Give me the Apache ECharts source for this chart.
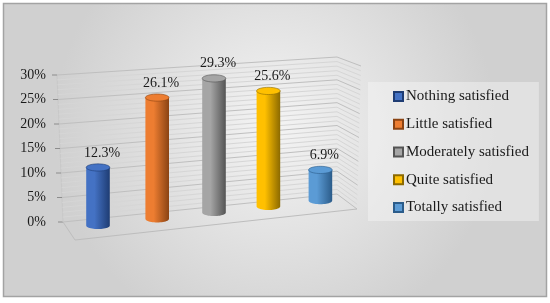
<!DOCTYPE html>
<html>
<head>
<meta charset="utf-8">
<script src="https://cdn.jsdelivr.net/npm/echarts@6/dist/echarts.min.js"></script>
<style>
  html, body { margin: 0; padding: 0; background: #fff; }
  #main { width: 550px; height: 303px; }
</style>
</head>
<body>
<div id="main"></div>
<script>
const categories = ['Nothing satisfied', 'Little satisfied', 'Moderately satisfied', 'Quite satisfied', 'Totally satisfied'];
const values = [12.3, 26.1, 29.3, 25.6, 6.9];
const colors = ['#4472C4', '#ED7D31', '#A5A5A5', '#FFC000', '#5B9BD5'];
const darkColors = ['#1E3C73', '#8A4313', '#545454', '#8C6A00', '#2B5C8A'];
const yMax = 30;
const yStep = 5;
const FONT = '"Liberation Serif", "Times New Roman", serif';

const chart = echarts.init(document.getElementById('main'));

// grid lines every 1%, back wall + a small side wall to the right
const levels = [];
for (let v = 0; v <= yMax; v++) levels.push([0, v]);

function renderWall(params, api) {
  const v = api.value(1);
  const p = api.coord([0, v]);
  const r = api.coord([1, v]);
  const y0 = api.coord([0, 0])[1];
  const yTop = api.coord([0, yMax])[1];
  const H = y0 - yTop;
  const h = y0 - p[1];
  const lx = p[0] + 6 * (1 - h / H);
  const ry = y0 - 28 - h * 137 / H;
  const sx = r[0] + 20 + 4 * h / H;
  const sy = y0 - 13 - h * 143 / H;
  const major = v % yStep === 0;
  const children = [{
    type: 'polyline',
    shape: { points: [[lx, p[1]], [r[0], ry], [sx, sy]] },
    style: { stroke: major ? '#bfbfbf' : '#d6d6d6', lineWidth: 1, fill: null }
  }];
  if (major) {
    children.push({
      type: 'line',
      shape: { x1: lx - 5, y1: p[1], x2: lx, y2: p[1] },
      style: { stroke: '#8c8c8c', lineWidth: 1 }
    });
  }
  if (v === 0) {
    children.push({
      type: 'polyline',
      shape: { points: [[lx, y0], [lx + 12, y0 + 18], [sx, sy]] },
      style: { stroke: '#bdbdbd', lineWidth: 1, fill: null }
    });
    children.push({
      type: 'line',
      shape: { x1: p[0], y1: yTop, x2: lx, y2: y0 },
      style: { stroke: '#c8c8c8', lineWidth: 1 }
    });
  }
  return { type: 'group', children: children };
}

function ellipsePts(cx, cy, rx, ry, a0, a1, n) {
  const pts = [];
  for (let k = 0; k <= n; k++) {
    const a = a0 + (a1 - a0) * k / n;
    pts.push([cx + rx * Math.cos(a), cy + ry * Math.sin(a)]);
  }
  return pts;
}

// cylinders, a little perspective: squeezed and lifted towards the right
function renderBar(params, api) {
  const i = api.value(0);
  const v = api.value(1);
  const band = api.size([1, 0])[0];
  const b = api.coord([i, 0]);
  const t = api.coord([i, v]);
  const x0 = api.coord([0, 0])[0];
  const u = (b[0] - x0) / band;
  const cx = b[0] - 1.2 * u * u;
  const by = b[1] - 0.112 * (cx - x0);
  const ty = by - (b[1] - t[1]) * (1 - 0.00026 * (cx - x0));
  const rx = 11.8, ry = 3.6;
  const c = colors[i], d = darkColors[i];

  const body = [[cx - rx, ty]].concat(ellipsePts(cx, by, rx, ry, Math.PI, 0, 24), [[cx + rx, ty]]);
  return {
    type: 'group',
    children: [
      {
        type: 'polygon',
        shape: { points: body },
        style: {
          fill: new echarts.graphic.LinearGradient(0, 0, 1, 0, [
            { offset: 0, color: c },
            { offset: 0.35, color: c },
            { offset: 1, color: d }
          ])
        }
      },
      {
        type: 'polygon',
        shape: { points: ellipsePts(cx, ty, rx, ry, 0, Math.PI * 2, 40) },
        style: { fill: c, stroke: d, lineWidth: 0.6 }
      },
      {
        type: 'text',
        style: {
          text: v.toFixed(1) + '%',
          x: cx + 4, y: ty - ry - 11,
          align: 'center', verticalAlign: 'middle',
          font: '14px ' + FONT, fill: '#1a1a1a'
        }
      }
    ]
  };
}

const barSeries = categories.map((name, i) => ({
  name: name,
  type: 'custom',
  coordinateSystem: 'cartesian2d',
  xAxisIndex: 1,
  yAxisIndex: 1,
  z: 3,
  itemStyle: { color: colors[i], borderColor: darkColors[i], borderWidth: 1 },
  encode: { x: 0, y: 1 },
  data: [[i, values[i]]],
  renderItem: renderBar
}));

const option = {
  animation: false,
  backgroundColor: '#ffffff',
  graphic: [{
    type: 'rect',
    z: -100,
    shape: { x: 3.5, y: 3.5, width: 543, height: 293 },
    style: {
      fill: {
        type: 'radial', x: 0.5, y: 0.42, r: 0.75,
        colorStops: [{ offset: 0, color: '#f4f4f4' }, { offset: 1, color: '#d0d0d0' }]
      },
      stroke: '#a3a3a3', lineWidth: 1.5
    }
  }],
  grid: [
    { left: 57, width: 280, top: 75, height: 147 },
    { left: 67.8, width: 302, top: 83.9, height: 141.6 }
  ],
  xAxis: [
    { type: 'value', gridIndex: 0, min: 0, max: 1, show: false },
    { type: 'category', gridIndex: 1, data: categories, show: false }
  ],
  yAxis: [
    {
      type: 'value', gridIndex: 0, min: 0, max: yMax, interval: yStep,
      axisLine: { show: false }, axisTick: { show: false }, splitLine: { show: false },
      axisLabel: { formatter: '{value}%', margin: 11, color: '#1a1a1a', fontFamily: FONT, fontSize: 14 }
    },
    { type: 'value', gridIndex: 1, min: 0, max: yMax, show: false }
  ],
  legend: {
    data: categories,
    orient: 'vertical',
    left: 368,
    top: 82,
    padding: [7, 10, 6, 25],
    backgroundColor: 'rgba(246,246,246,0.45)',
    itemWidth: 9,
    itemHeight: 9,
    itemGap: 12.75,
    icon: 'rect',
    textStyle: { color: '#1a1a1a', fontFamily: FONT, fontSize: 15, lineHeight: 14, padding: [0, 0, 0, -2] }
  },
  series: [{
    type: 'custom',
    coordinateSystem: 'cartesian2d',
    xAxisIndex: 0,
    yAxisIndex: 0,
    z: 1,
    silent: true,
    encode: { x: 0, y: 1 },
    data: levels,
    renderItem: renderWall
  }].concat(barSeries)
};

chart.setOption(option);
</script>
</body>
</html>
